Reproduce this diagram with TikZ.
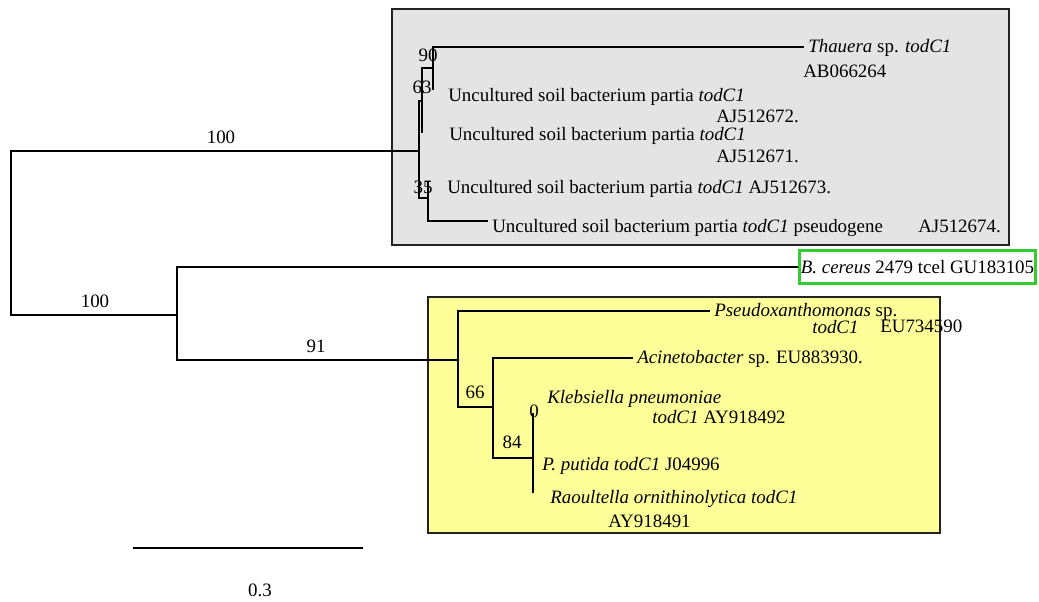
\documentclass[tikz,border=0pt]{standalone}
\usepackage{fontspec}
\setmainfont{Liberation Serif}
\usepackage{xcolor}
\usepackage{tikz}
\definecolor{cladegrey}{HTML}{E4E4E4}
\definecolor{cladeyellow}{HTML}{FFFF99}
\definecolor{bcgreen}{HTML}{33CC33}
\definecolor{boxline}{HTML}{222222}
\newcommand{\treefont}{\fontsize{14.2}{17}\selectfont}
\tikzset{
  branch/.style={line width=1.1pt, black},
  leaf/.style={anchor=base west, inner xsep=3pt, inner ysep=0pt,
               text height=11.1pt, text depth=3.6pt, font=\treefont},
  boot/.style={anchor=base, inner sep=0pt, font=\treefont},
  clade/.style={draw=boxline, line width=1.5pt},
}

\begin{document}
\begin{tikzpicture}[x=0.75pt, y=-0.75pt]
  \useasboundingbox (0,0) rectangle (1039,601);

  % clade boxes
  \filldraw[clade, fill=cladegrey] (392,9) rectangle (1009,245);
  \filldraw[clade, fill=cladeyellow] (428,297) rectangle (940,533);

  % leaves, upper clade
  \node[leaf] (thauera) at (804,52) {\textit{Thauera} sp. \textit{todC1}};
  \node[leaf] (thaueraAcc) at (799,77) {AB066264};
  \node[leaf] (unc672) at (444,101) {Uncultured soil bacterium partia \textit{todC1}};
  \node[leaf] (acc672) at (712,122) {AJ512672.};
  \node[leaf] (unc671) at (445,140) {Uncultured soil bacterium partia \textit{todC1}};
  \node[leaf] (acc671) at (712,162) {AJ512671.};
  \node[leaf] (unc673) at (443,193) {Uncultured soil bacterium partia \textit{todC1} AJ512673.};
  \node[leaf] (pseudo) at (488,232) {Uncultured soil bacterium partia \textit{todC1} pseudogene};
  \node[leaf] (acc674) at (914,232) {AJ512674.};

  % B. cereus
  \node[draw=bcgreen, line width=2.2pt, inner sep=0pt, minimum width=177pt,
        minimum height=24.75pt, font=\treefont] (bc) at (917.5,267)
        {\textit{B. cereus} 2479 tcel GU183105};

  % leaves, lower clade
  \node[leaf] (pxm) at (710,316) {\textit{Pseudoxanthomonas} sp.};
  \node[leaf] (pxmGene) at (808,333) {\textit{todC1}};
  \node[leaf] (pxmAcc) at (876,332) {EU734590};
  \node[leaf] (acin) at (633,363) {\textit{Acinetobacter} sp. EU883930.};
  \node[leaf] (kleb) at (543,403) {\textit{Klebsiella pneumoniae}};
  \node[leaf] (klebAcc) at (648,423) {\textit{todC1} AY918492};
  \node[leaf] (putida) at (538,470) {\textit{P. putida todC1} J04996};
  \node[leaf] (raoult) at (546,503) {\textit{Raoultella ornithinolytica todC1}};
  \node[leaf] (raoultAcc) at (604,527) {AY918491};

  % internal nodes
  \coordinate (r) at (11,233);
  \coordinate (g) at (419,151);
  \coordinate (n63) at (422,101);
  \coordinate (n90) at (433,68);
  \coordinate (t672) at (433,90);
  \coordinate (t671) at (422,133);
  \coordinate (n35) at (428,198);
  \coordinate (t673) at (428,182);
  \coordinate (b) at (177,315);
  \coordinate (y) at (458,360);
  \coordinate (n66) at (493,407);
  \coordinate (n84) at (533,458);
  \coordinate (t492) at (533,413);
  \coordinate (t491) at (533,493);

  % branches
  \draw[branch] (g) -| (r) |- (b);
  \draw[branch] (n63) -| (g) |- (n35);
  \draw[branch] (n90) -| (n63) -- (t671);
  \draw[branch] (thauera.west) -| (n90) -- (t672);
  \draw[branch] (t673) -- (n35) |- ([yshift=4.5pt]pseudo.west);
  \draw[branch] (bc.west) -| (b) |- (y);
  \draw[branch] (pxm.west) -| (y) |- (n66);
  \draw[branch] (acin.west) -| (n66) |- (n84);
  \draw[branch] (t492) -- (n84) -- (t491);

  % bootstrap values
  \node[boot] (bs100a) at (221,143) {100};
  \node[boot] (bs100b) at (95,307) {100};
  \node[boot] (bs91) at (316,352) {91};
  \node[boot] (bs90) at (428,61) {90};
  \node[boot] (bs63) at (422,93) {63};
  \node[boot] (bs35) at (423,193) {35};
  \node[boot] (bs66) at (475,398) {66};
  \node[boot] (bs84) at (512,448) {84};
  \node[boot] (bs0) at (534,417) {0};

  % scale bar
  \coordinate (sbl) at (133,548);
  \coordinate (sbr) at (363,548);
  \draw[branch] (sbl) -- (sbr);
  \node[boot] (sb) at (260,596) {0.3};
\end{tikzpicture}
\end{document}
